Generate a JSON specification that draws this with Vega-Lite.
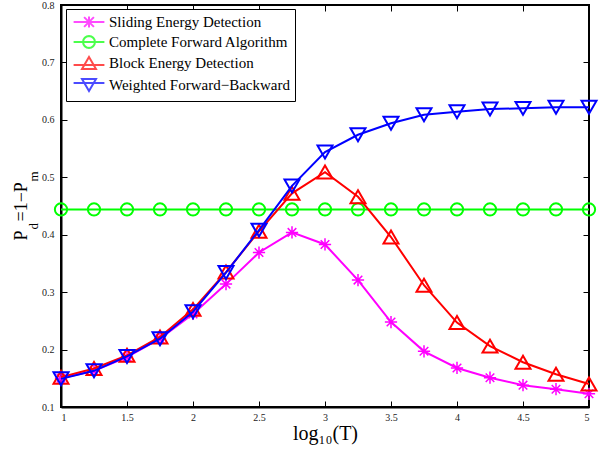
{
  "$schema": "https://vega.github.io/schema/vega-lite/v6.json",
  "width": 528,
  "height": 402,
  "autosize": {"type": "none"},
  "padding": {"left": 61, "top": 5, "right": 13, "bottom": 42},
  "background": "white",
  "config": {
    "view": {"stroke": "black", "strokeWidth": 2},
    "axis": {"grid": false, "domainColor": "black", "domainWidth": 2, "tickColor": "black", "tickWidth": 1, "tickSize": 6, "labelColor": "#222", "titleColor": "black"}
  },
  "data": {
    "values": [
      {"x": 1, "series": "Sliding Energy Detection", "y": 0.150},
      {"x": 1.25, "series": "Sliding Energy Detection", "y": 0.163},
      {"x": 1.5, "series": "Sliding Energy Detection", "y": 0.187},
      {"x": 1.75, "series": "Sliding Energy Detection", "y": 0.219},
      {"x": 2, "series": "Sliding Energy Detection", "y": 0.262},
      {"x": 2.25, "series": "Sliding Energy Detection", "y": 0.314},
      {"x": 2.5, "series": "Sliding Energy Detection", "y": 0.369},
      {"x": 2.75, "series": "Sliding Energy Detection", "y": 0.404},
      {"x": 3, "series": "Sliding Energy Detection", "y": 0.383},
      {"x": 3.25, "series": "Sliding Energy Detection", "y": 0.321},
      {"x": 3.5, "series": "Sliding Energy Detection", "y": 0.248},
      {"x": 3.75, "series": "Sliding Energy Detection", "y": 0.197},
      {"x": 4, "series": "Sliding Energy Detection", "y": 0.168},
      {"x": 4.25, "series": "Sliding Energy Detection", "y": 0.151},
      {"x": 4.5, "series": "Sliding Energy Detection", "y": 0.138},
      {"x": 4.75, "series": "Sliding Energy Detection", "y": 0.131},
      {"x": 5, "series": "Sliding Energy Detection", "y": 0.123},
      {"x": 1, "series": "Complete Forward Algorithm", "y": 0.444},
      {"x": 1.25, "series": "Complete Forward Algorithm", "y": 0.444},
      {"x": 1.5, "series": "Complete Forward Algorithm", "y": 0.444},
      {"x": 1.75, "series": "Complete Forward Algorithm", "y": 0.444},
      {"x": 2, "series": "Complete Forward Algorithm", "y": 0.444},
      {"x": 2.25, "series": "Complete Forward Algorithm", "y": 0.444},
      {"x": 2.5, "series": "Complete Forward Algorithm", "y": 0.444},
      {"x": 2.75, "series": "Complete Forward Algorithm", "y": 0.444},
      {"x": 3, "series": "Complete Forward Algorithm", "y": 0.444},
      {"x": 3.25, "series": "Complete Forward Algorithm", "y": 0.444},
      {"x": 3.5, "series": "Complete Forward Algorithm", "y": 0.444},
      {"x": 3.75, "series": "Complete Forward Algorithm", "y": 0.444},
      {"x": 4, "series": "Complete Forward Algorithm", "y": 0.444},
      {"x": 4.25, "series": "Complete Forward Algorithm", "y": 0.444},
      {"x": 4.5, "series": "Complete Forward Algorithm", "y": 0.444},
      {"x": 4.75, "series": "Complete Forward Algorithm", "y": 0.444},
      {"x": 5, "series": "Complete Forward Algorithm", "y": 0.444},
      {"x": 1, "series": "Block Energy Detection", "y": 0.152},
      {"x": 1.25, "series": "Block Energy Detection", "y": 0.167},
      {"x": 1.5, "series": "Block Energy Detection", "y": 0.190},
      {"x": 1.75, "series": "Block Energy Detection", "y": 0.222},
      {"x": 2, "series": "Block Energy Detection", "y": 0.270},
      {"x": 2.25, "series": "Block Energy Detection", "y": 0.335},
      {"x": 2.5, "series": "Block Energy Detection", "y": 0.406},
      {"x": 2.75, "series": "Block Energy Detection", "y": 0.472},
      {"x": 3, "series": "Block Energy Detection", "y": 0.509},
      {"x": 3.25, "series": "Block Energy Detection", "y": 0.466},
      {"x": 3.5, "series": "Block Energy Detection", "y": 0.396},
      {"x": 3.75, "series": "Block Energy Detection", "y": 0.312},
      {"x": 4, "series": "Block Energy Detection", "y": 0.247},
      {"x": 4.25, "series": "Block Energy Detection", "y": 0.206},
      {"x": 4.5, "series": "Block Energy Detection", "y": 0.178},
      {"x": 4.75, "series": "Block Energy Detection", "y": 0.157},
      {"x": 5, "series": "Block Energy Detection", "y": 0.140},
      {"x": 1, "series": "Weighted Forward−Backward", "y": 0.149},
      {"x": 1.25, "series": "Weighted Forward−Backward", "y": 0.163},
      {"x": 1.5, "series": "Weighted Forward−Backward", "y": 0.188},
      {"x": 1.75, "series": "Weighted Forward−Backward", "y": 0.219},
      {"x": 2, "series": "Weighted Forward−Backward", "y": 0.266},
      {"x": 2.25, "series": "Weighted Forward−Backward", "y": 0.334},
      {"x": 2.5, "series": "Weighted Forward−Backward", "y": 0.408},
      {"x": 2.75, "series": "Weighted Forward−Backward", "y": 0.485},
      {"x": 3, "series": "Weighted Forward−Backward", "y": 0.544},
      {"x": 3.25, "series": "Weighted Forward−Backward", "y": 0.574},
      {"x": 3.5, "series": "Weighted Forward−Backward", "y": 0.594},
      {"x": 3.75, "series": "Weighted Forward−Backward", "y": 0.609},
      {"x": 4, "series": "Weighted Forward−Backward", "y": 0.614},
      {"x": 4.25, "series": "Weighted Forward−Backward", "y": 0.619},
      {"x": 4.5, "series": "Weighted Forward−Backward", "y": 0.620},
      {"x": 4.75, "series": "Weighted Forward−Backward", "y": 0.622},
      {"x": 5, "series": "Weighted Forward−Backward", "y": 0.622}
    ]
  },
  "layer": [
    {
      "transform": [{"filter": "datum.series === 'Sliding Energy Detection'"}],
      "mark": {"type": "line", "color": "#ff00ff", "strokeWidth": 2,
        "point": {"shape": "M0,-1V1M-1,0H1M-0.7,-0.7L0.7,0.7M-0.7,0.7L0.7,-0.7", "filled": false, "size": 150, "strokeWidth": 1.5, "color": "#ff00ff"}},
      "encoding": {
        "x": {"field": "x", "type": "quantitative", "scale": {"domain": [1, 5], "nice": false, "zero": false},
          "axis": {"orient": "bottom", "values": [1, 1.5, 2, 2.5, 3, 3.5, 4, 4.5, 5], "labelExpr": "'' + datum.value", "ticks": false, "labelPadding": 5,
            "labelFont": "Liberation Serif", "labelFontSize": 10,
            "title": "log₁₀(T)", "titleFont": "Liberation Serif", "titleFontSize": 20, "titleFontWeight": "normal", "titleBaseline": "alphabetic", "titleX": 264, "titleY": 32}},
        "y": {"field": "y", "type": "quantitative", "scale": {"domain": [0.1, 0.8], "nice": false, "zero": false},
          "axis": {"orient": "left", "values": [0.1, 0.2, 0.3, 0.4, 0.5, 0.6, 0.7, 0.8], "format": ".1f", "ticks": false, "labelPadding": 7,
            "labelFont": "Liberation Serif", "labelFontSize": 10,
            "title": "P\u00a0\u00a0=1−P", "titleFont": "Liberation Serif", "titleFontSize": 18, "titleFontWeight": "normal", "titleAngle": -90, "titleAlign": "left", "titleBaseline": "alphabetic", "titleX": -35, "titleY": 235}}
      }
    },
    {
      "transform": [{"filter": "datum.series === 'Complete Forward Algorithm'"}],
      "mark": {"type": "line", "color": "#00ff00", "strokeWidth": 2,
        "point": {"shape": "circle", "filled": false, "size": 150, "strokeWidth": 2, "color": "#00ff00"}},
      "encoding": {
        "x": {"field": "x", "type": "quantitative", "scale": {"domain": [1, 5], "nice": false, "zero": false},
          "axis": {"orient": "top", "offset": -402, "values": [1, 1.5, 2, 2.5, 3, 3.5, 4, 4.5, 5], "labels": false, "domain": false, "title": null}},
        "y": {"field": "y", "type": "quantitative", "scale": {"domain": [0.1, 0.8], "nice": false, "zero": false},
          "axis": {"orient": "right", "offset": -528, "values": [0.1, 0.2, 0.3, 0.4, 0.5, 0.6, 0.7, 0.8], "labels": false, "domain": false, "title": null}}
      }
    },
    {
      "transform": [{"filter": "datum.series === 'Block Energy Detection'"}],
      "mark": {"type": "line", "color": "#ff0000", "strokeWidth": 2,
        "point": {"shape": "triangle-up", "filled": false, "size": 225, "strokeWidth": 2, "color": "#ff0000"}},
      "encoding": {
        "x": {"field": "x", "type": "quantitative", "scale": {"domain": [1, 5], "nice": false, "zero": false},
          "axis": {"orient": "bottom", "offset": -402, "values": [1, 1.5, 2, 2.5, 3, 3.5, 4, 4.5, 5], "labels": false, "domain": false, "title": null}},
        "y": {"field": "y", "type": "quantitative", "scale": {"domain": [0.1, 0.8], "nice": false, "zero": false},
          "axis": {"orient": "left", "offset": -528, "values": [0.1, 0.2, 0.3, 0.4, 0.5, 0.6, 0.7, 0.8], "labels": false, "domain": false, "title": null}}
      }
    },
    {
      "transform": [{"filter": "datum.series === 'Weighted Forward−Backward'"}],
      "mark": {"type": "line", "color": "#0000ff", "strokeWidth": 2,
        "point": {"shape": "triangle-down", "filled": false, "size": 225, "strokeWidth": 2, "color": "#0000ff"}},
      "encoding": {
        "x": {"field": "x", "type": "quantitative", "scale": {"domain": [1, 5], "nice": false, "zero": false}, "axis": null},
        "y": {"field": "y", "type": "quantitative", "scale": {"domain": [0.1, 0.8], "nice": false, "zero": false}, "axis": null}
      }
    },
    {
      "transform": [{"filter": "datum.x < 0"}],
      "mark": {"type": "point", "filled": false, "strokeWidth": 2, "size": 225},
      "encoding": {
        "x": {"field": "x", "type": "quantitative", "scale": {"domain": [1, 5], "nice": false, "zero": false},
          "axis": {"orient": "top", "values": [1, 1.5, 2, 2.5, 3, 3.5, 4, 4.5, 5], "labels": false, "ticks": false, "domain": false,
            "title": "m", "titleFont": "Liberation Serif", "titleFontSize": 13, "titleFontWeight": "normal", "titleAngle": -90, "titleAlign": "left", "titleBaseline": "alphabetic", "titleX": -23.5, "titleY": 176}},
        "y": {"field": "y", "type": "quantitative", "scale": {"domain": [0.1, 0.8], "nice": false, "zero": false},
          "axis": {"orient": "right", "values": [0.1, 0.2, 0.3, 0.4, 0.5, 0.6, 0.7, 0.8], "labels": false, "ticks": false, "domain": false,
            "title": "d", "titleFont": "Liberation Serif", "titleFontSize": 13, "titleFontWeight": "normal", "titleAngle": -90, "titleAlign": "left", "titleBaseline": "alphabetic", "titleX": -551.5, "titleY": 224}},
        "shape": {"field": "series", "type": "nominal",
          "scale": {"domain": ["Sliding Energy Detection", "Complete Forward Algorithm", "Block Energy Detection", "Weighted Forward−Backward"],
            "range": ["M-2.2,0H2.2M0,-0.8V0.8M-0.7,-0.7L0.7,0.7M-0.7,0.7L0.7,-0.7", "M-2.2,0H2.2M0.85,0L0.785,0.325L0.601,0.601L0.325,0.785L0,0.85L-0.325,0.785L-0.601,0.601L-0.785,0.325L-0.85,0L-0.785,-0.325L-0.601,-0.601L-0.325,-0.785L0,-0.85L0.325,-0.785L0.601,-0.601L0.785,-0.325Z", "M-2.2,0.3H2.2M0,-0.866L1,0.866H-1Z", "M-2.2,-0.3H2.2M0,0.866L1,-0.866H-1Z"]},
          "legend": {"title": null, "orient": "none", "legendX": 5, "legendY": 4, "padding": 5, "symbolOffset": 10, "labelOffset": 12,
            "strokeColor": "black", "fillColor": "white", "rowPadding": 0, "labelFont": "Liberation Serif", "labelFontSize": 15, "labelColor": "black",
            "symbolStrokeWidth": 2, "symbolSize": 196, "labelLimit": 400}},
        "color": {"field": "series", "type": "nominal",
          "scale": {"domain": ["Sliding Energy Detection", "Complete Forward Algorithm", "Block Energy Detection", "Weighted Forward−Backward"],
            "range": ["#ff00ff", "#00ff00", "#ff0000", "#0000ff"]},
          "legend": {"title": null, "orient": "none", "legendX": 5, "legendY": 4, "padding": 5, "symbolOffset": 10, "labelOffset": 12,
            "strokeColor": "black", "fillColor": "white", "rowPadding": 0, "labelFont": "Liberation Serif", "labelFontSize": 15, "labelColor": "black",
            "symbolStrokeWidth": 2, "symbolSize": 196, "labelLimit": 400}}
      }
    }
  ],
  "resolve": {"axis": {"x": "independent", "y": "independent"}}
}
